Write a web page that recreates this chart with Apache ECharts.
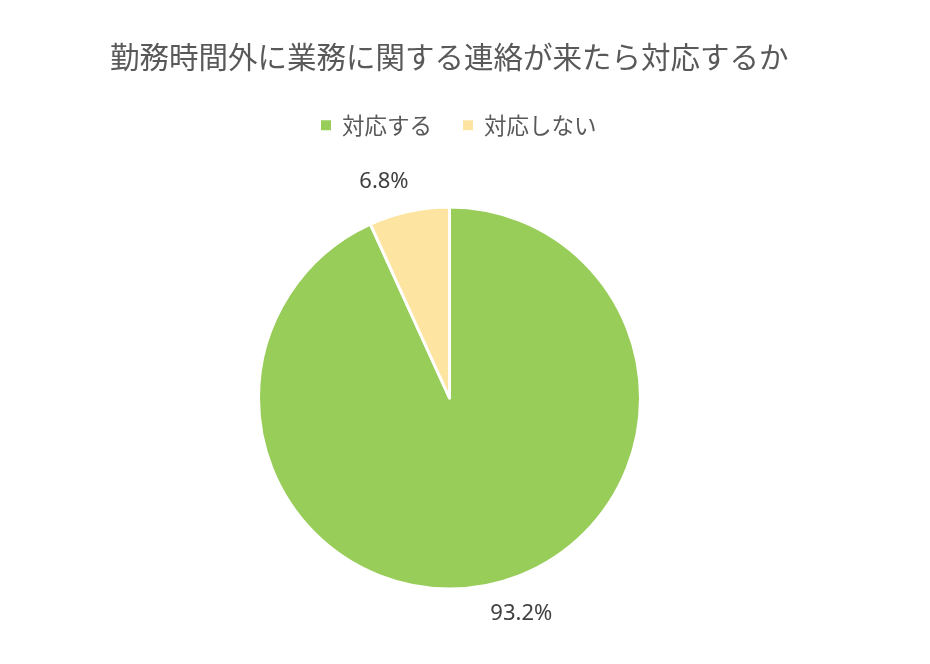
<!DOCTYPE html>
<html lang="ja">
<head>
<meta charset="UTF-8">
<title>勤務時間外に業務に関する連絡が来たら対応するか</title>
<script src="https://cdn.jsdelivr.net/npm/echarts@6/dist/echarts.min.js"></script>
<style>
  html, body { margin: 0; padding: 0; background: #fff; }
  #main { width: 930px; height: 664px; }
</style>
</head>
<body>
<div id="main"></div>
<script type="text/javascript">
    // 回答の割合 (%)
    var categories = ['対応する', '対応しない'];
    var values = [93.2, 6.8];
    var colors = ['#98CD5A', '#FDE4A0'];

    var myChart = echarts.init(document.getElementById('main'));

    var pieData = [];
    for (var i = 0; i < categories.length; i++) {
        pieData.push({ name: categories[i], value: values[i], itemStyle: { color: colors[i] } });
    }

    var option = {
        backgroundColor: '#ffffff',
        title: {
            text: '勤務時間外に業務に関する連絡が来たら対応するか',
            left: 105,
            top: 37,
            textStyle: {
                fontFamily: 'Noto Sans CJK JP',
                fontSize: 29.5,
                fontWeight: 'normal',
                color: '#595959'
            }
        },
        legend: {
            data: categories,
            top: 109,
            left: 314,
            icon: 'rect',
            itemWidth: 12,
            itemHeight: 12,
            itemGap: 29,
            textStyle: {
                fontFamily: 'Noto Sans CJK JP',
                fontSize: 22.5,
                color: '#595959',
                padding: [0, 0, 0, 5]
            }
        },
        series: [{
            type: 'pie',
            center: [449.5, 398],
            radius: 191,
            startAngle: 90,
            clockwise: true,
            animation: false,
            avoidLabelOverlap: false,
            itemStyle: {
                borderColor: '#ffffff',
                borderWidth: 3
            },
            label: {
                show: true,
                position: 'outside',
                distanceToLabelLine: 5,
                formatter: function (p) { return p.value.toFixed(1) + '%'; },
                fontFamily: 'Noto Sans',
                fontSize: 22,
                color: '#404040'
            },
            labelLine: {
                show: false,
                length: 30,
                length2: -11
            },
            data: pieData
        }]
    };

    myChart.setOption(option);
</script>
</body>
</html>
